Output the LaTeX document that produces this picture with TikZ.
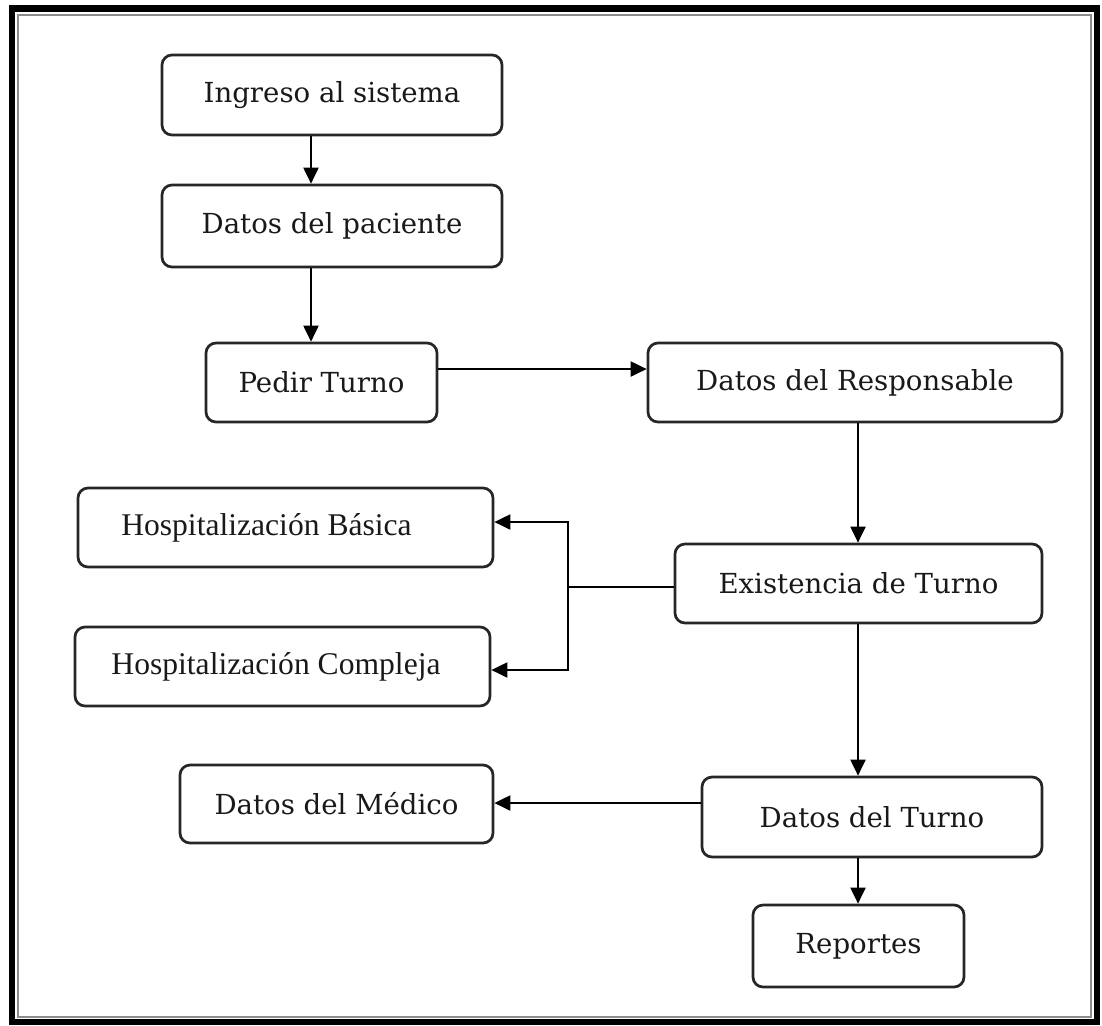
\documentclass[tikz,border=0pt]{standalone}
\usepackage{fontspec}
\usetikzlibrary{arrows.meta}
\newfontfamily\slabfont{DejaVu Serif}
\newfontfamily\timesfont{Liberation Serif}

\tikzset{
  box/.style={draw=black!85, line width=1.35pt, rounded corners=5pt, fill=white,
    text=black!90, font=\slabfont\fontsize{13.8}{16}\selectfont, inner sep=0pt},
  tbox/.style={box, font=\timesfont\fontsize{15.8}{18}\selectfont},
  link/.style={draw=black, line width=1pt},
  arr/.style={link, -{Triangle[length=8pt, width=7.5pt]}},
}

\begin{document}
\begin{tikzpicture}[x=0.5pt, y=-0.5pt]
  % page and frame
  \fill[white] (0,0) rectangle (1102,1025);
  \useasboundingbox (0,0) rectangle (1102,1025);
  \draw[black, line width=3.3pt] (12,8.5) rectangle (1097,1022);
  \draw[black!45, line width=1pt] (17.5,14.5) rectangle (1091,1016.5);

  % process boxes
  \node[box, minimum width=170pt, minimum height=40pt]   (ing) at (332,95)     {Ingreso al sistema};
  \node[box, minimum width=170pt, minimum height=41pt]   (pac) at (332,226)    {Datos del paciente};
  \node[box, minimum width=115.5pt, minimum height=39.5pt] (ped) at (321.5,382.5) {Pedir Turno};
  \node[box, minimum width=207pt, minimum height=39.5pt] (res) at (855,382.5)  {Datos del Responsable};
  \node[box, minimum width=183.5pt, minimum height=39.5pt] (exi) at (858.5,583.5) {Existencia de Turno};
  \node[tbox, minimum width=207.5pt, minimum height=39.5pt] (hb) at (285.5,527.5) {Hospitalización Básica\hspace*{19pt}};
  \node[tbox, minimum width=207.5pt, minimum height=39.5pt] (hc) at (282.5,666.5) {Hospitalización Compleja\hspace*{6.5pt}};
  \node[box, minimum width=170pt, minimum height=40pt]   (tur) at (872,817)    {Datos del Turno};
  \node[box, minimum width=156.5pt, minimum height=39pt] (med) at (336.5,804)  {Datos del Médico};
  \node[box, minimum width=105.5pt, minimum height=41pt] (rep) at (858.5,946)  {Reportes};

  % routing guides
  \coordinate (xa) at (311,0);
  \coordinate (ya) at (0,369);
  \coordinate (j)  at (568,587);
  \coordinate (yb) at (0,522);
  \coordinate (yc) at (0,670);
  \coordinate (yd) at (0,803);
  \coordinate (xb) at (858,0);

  % connectors
  \draw[arr] (ing.south -| xa) -- (pac.north -| xa);
  \draw[arr] (pac.south -| xa) -- (ped.north -| xa);
  \draw[arr] (ped.east |- ya) -- (res.west |- ya);
  \draw[arr] (res.south -| xb) -- (exi.north -| xb);
  \draw[link] (exi.west |- j) -- (j);
  \draw[arr] (j) |- (hb.east |- yb);
  \draw[arr] (j) |- (hc.east |- yc);
  \draw[arr] (exi.south -| xb) -- (tur.north -| xb);
  \draw[arr] (tur.west |- yd) -- (med.east |- yd);
  \draw[arr] (tur.south -| xb) -- (rep.north -| xb);
\end{tikzpicture}
\end{document}
